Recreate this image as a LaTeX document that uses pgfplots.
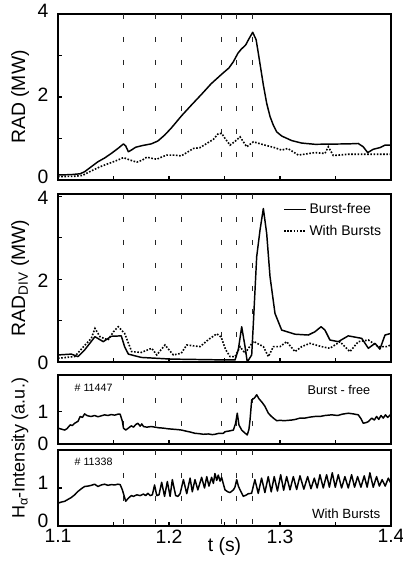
\documentclass[border=0pt]{standalone}
\usepackage{fontspec}
\setmainfont{Liberation Sans}
\usepackage{pgfplots}
\pgfplotsset{compat=1.18}

\pgfplotsset{
  panel/.style={
    scale only axis, width=249.75pt, xmin=1.1, xmax=1.4,
    axis line style={line width=1pt},
    xtick={1.1,1.15,1.2,1.25,1.3,1.35,1.4}, xticklabels={},
    xtick pos=bottom, ytick pos=left,
    tick align=inside, major tick length=3pt,
    tick style={black, line width=0.8pt},
    every tick label/.append style={font=\fontsize{14.5}{16}\selectfont, inner sep=1pt},
    yticklabel style={xshift=-6pt},
    xticklabel style={yshift=-1.5pt},
    /pgf/number format/assume math mode=true,
    every axis y label/.style={at={(axis description cs:-0.114,0.5)}, rotate=90, anchor=center, font=\fontsize{14.5}{16}\selectfont},
  },
  vl/.style={black!85, line width=0.8pt, dash pattern=on 3.75pt off 13.5pt, forget plot},
  bf/.style={black, line width=1.1pt, line join=round},
  wb/.style={black, line width=1.2pt, dash pattern=on 1.2pt off 1.2pt},
}

\begin{document}
\begin{tikzpicture}

% RAD
\begin{axis}[panel, at={(43.5pt,288pt)}, anchor=south west, height=124.5pt,
  ymin=0, ymax=4, ytick={0,1,2,3,4}, yticklabels={0,,2,,4}, ylabel={RAD (MW)},
  yticklabel style={yshift=2pt}]
\pgfplotsinvokeforeach{1.159,1.188,1.211}{\addplot[vl] coordinates {(#1,4) (#1,1.05)};}
\pgfplotsinvokeforeach{1.2475,1.261,1.275}{\addplot[vl] coordinates {(#1,4) (#1,0.45)};}
\addplot[bf] coordinates {
(1.100,0.12)(1.112,0.13)(1.120,0.15)(1.124,0.20)(1.130,0.32)(1.136,0.44)(1.142,0.53)
(1.148,0.64)(1.154,0.76)(1.159,0.87)(1.161,0.82)(1.1634,0.68)(1.166,0.72)(1.170,0.79)
(1.176,0.83)(1.184,0.87)(1.190,0.94)(1.196,1.08)(1.202,1.25)(1.2114,1.55)(1.220,1.80)
(1.2295,2.07)(1.238,2.32)(1.2475,2.55)(1.254,2.70)(1.258,2.85)(1.262,3.05)(1.265,3.15)
(1.269,3.25)(1.272,3.40)(1.2754,3.56)(1.2785,3.38)(1.2805,3.05)(1.285,2.29)(1.288,1.85)
(1.291,1.53)(1.294,1.32)(1.297,1.16)(1.3015,1.06)(1.3105,0.95)(1.3195,0.89)(1.3315,0.86)
(1.3615,0.87)(1.3705,0.88)(1.375,0.80)(1.379,0.66)(1.384,0.74)(1.390,0.78)(1.3946,0.84)
(1.400,0.84)};
\addplot[wb] coordinates {
(1.100,0.08)(1.115,0.09)(1.122,0.11)(1.130,0.22)(1.138,0.32)(1.146,0.40)(1.152,0.46)
(1.159,0.54)(1.165,0.48)(1.171,0.43)(1.176,0.48)(1.180,0.55)(1.185,0.52)(1.189,0.50)
(1.194,0.56)(1.198,0.60)(1.205,0.60)(1.211,0.58)(1.216,0.66)(1.222,0.76)(1.228,0.78)
(1.234,0.88)(1.240,0.98)(1.2445,1.12)(1.2475,1.12)(1.2505,1.00)(1.255,0.84)(1.259,0.92)
(1.264,1.04)(1.270,0.80)(1.276,0.92)(1.2865,0.84)(1.2950,0.78)(1.3015,0.72)(1.307,0.76)
(1.3165,0.60)(1.3315,0.66)(1.3405,0.64)(1.3435,0.80)(1.348,0.59)(1.3615,0.62)(1.380,0.62)
(1.400,0.62)};
\end{axis}

% RAD_DIV
\begin{axis}[panel, at={(43.5pt,151.5pt)}, anchor=south west, height=126pt,
  ymin=0, ymax=4.05, ytick={0,1,2,3,4}, yticklabels={0,,2,,4},
  yticklabel style={yshift=-1pt},
  ylabel={RAD\textsubscript{DIV} (MW)},
  legend style={at={(axis description cs:0.979,0.96)}, anchor=north east, draw=none, fill=none,
    inner sep=0pt, row sep=3pt, font=\fontsize{10.5}{12}\selectfont,
    /tikz/every even column/.append style={column sep=2pt}},
  legend cell align=left,
  legend image code/.code={\draw[#1] (0pt,0pt) -- (16.5pt,0pt);}]
\pgfplotsinvokeforeach{1.159,1.188,1.211}{\addplot[vl] coordinates {(#1,4.05) (#1,0.95)};}
\pgfplotsinvokeforeach{1.2475,1.261,1.275}{\addplot[vl] coordinates {(#1,4.05) (#1,0.35)};}
\addplot[bf] coordinates {
(1.100,0.17)(1.112,0.19)(1.118,0.13)(1.124,0.29)(1.1333,0.61)(1.1408,0.49)(1.148,0.62)
(1.157,0.63)(1.160,0.37)(1.1634,0.19)(1.175,0.11)(1.202,0.07)(1.250,0.05)(1.2595,0.05)
(1.2624,0.29)(1.2655,0.85)(1.2685,0.37)(1.2705,0.0)(1.2745,0.17)(1.276,0.93)(1.279,2.54)
(1.282,3.18)(1.285,3.70)(1.288,3.10)(1.291,2.06)(1.2955,1.17)(1.3015,0.77)(1.3135,0.67)
(1.3255,0.65)(1.3315,0.73)(1.337,0.85)(1.3405,0.77)(1.345,0.53)(1.3525,0.49)(1.3615,0.63)
(1.3736,0.57)(1.3796,0.33)(1.3856,0.45)(1.390,0.31)(1.3946,0.65)(1.400,0.69)};
\addlegendentry{Burst-free}
\addplot[wb] coordinates {
(1.100,0.09)(1.115,0.13)(1.123,0.37)(1.130,0.57)(1.1333,0.81)(1.1378,0.61)(1.145,0.53)
(1.150,0.73)(1.1543,0.85)(1.160,0.69)(1.1664,0.25)(1.175,0.23)(1.1844,0.33)(1.189,0.17)
(1.1964,0.41)(1.2039,0.17)(1.211,0.21)(1.216,0.41)(1.228,0.37)(1.236,0.55)(1.243,0.68)
(1.247,0.60)(1.251,0.30)(1.255,0.13)(1.2595,0.13)(1.264,0.37)(1.2685,0.21)(1.276,0.50)
(1.285,0.37)(1.2895,0.13)(1.294,0.37)(1.300,0.37)(1.306,0.49)(1.3135,0.25)(1.3195,0.37)
(1.327,0.45)(1.3375,0.37)(1.345,0.33)(1.354,0.49)(1.363,0.25)(1.3705,0.49)(1.3796,0.53)
(1.3886,0.37)(1.396,0.37)(1.400,0.41)};
\addlegendentry{With Bursts}
\end{axis}

% H-alpha, burst-free
\begin{axis}[panel, at={(43.5pt,90pt)}, anchor=south west, height=51.75pt,
  ymin=0, ymax=2.13, ytick={0,1}, yticklabels={0,1}]
\pgfplotsinvokeforeach{1.159,1.188,1.211,1.2475,1.261,1.275}{\addplot[vl] coordinates {(#1,2.13) (#1,0)};}
\addplot[black, line width=1.1pt, line join=round] coordinates {
(1.100,0.49)(1.103,0.46)(1.106,0.43)(1.108,0.47)(1.111,0.59)(1.113,0.57)(1.115,0.64)
(1.118,0.70)(1.120,0.85)(1.122,0.82)(1.124,0.93)(1.126,0.88)(1.128,0.86)(1.130,0.85)
(1.133,0.88)(1.136,0.84)(1.139,0.87)(1.142,0.90)(1.145,0.88)(1.148,0.91)(1.151,0.89)
(1.154,0.92)(1.156,0.92)(1.158,0.70)(1.159,0.49)(1.161,0.43)(1.163,0.48)(1.166,0.56)
(1.168,0.52)(1.170,0.60)(1.172,0.64)(1.174,0.55)(1.1755,0.62)(1.177,0.54)(1.180,0.52)
(1.184,0.54)(1.1874,0.52)(1.191,0.50)(1.195,0.49)(1.199,0.47)(1.2024,0.46)(1.206,0.45)
(1.209,0.44)(1.2114,0.43)(1.215,0.40)(1.219,0.37)(1.2234,0.33)(1.227,0.32)(1.231,0.30)
(1.2354,0.31)(1.239,0.29)(1.2415,0.30)(1.245,0.33)(1.249,0.33)(1.2505,0.38)(1.254,0.40)
(1.258,0.43)(1.260,0.64)(1.2615,0.95)(1.263,0.59)(1.2655,0.43)(1.268,0.35)(1.2705,0.28)
(1.272,0.45)(1.273,0.74)(1.2745,1.36)(1.277,1.42)(1.279,1.52)(1.281,1.40)(1.282,1.36)
(1.284,1.28)(1.2865,1.16)(1.2895,0.95)(1.292,0.86)(1.294,0.80)(1.297,0.72)(1.300,0.73)
(1.304,0.72)(1.3105,0.74)(1.314,0.76)(1.318,0.80)(1.3225,0.80)(1.327,0.83)(1.3315,0.85)
(1.336,0.85)(1.3405,0.88)(1.3466,0.90)(1.352,0.88)(1.356,0.92)(1.3615,0.95)(1.366,0.93)
(1.3705,0.90)(1.373,0.78)(1.375,0.64)(1.3775,0.66)(1.3796,0.69)(1.3826,0.80)(1.385,0.74)
(1.387,0.85)(1.389,0.76)(1.391,0.88)(1.393,0.80)(1.395,0.90)(1.397,0.82)(1.400,0.92)};
\node[anchor=west, font=\fontsize{8}{9}\selectfont] at (axis description cs:0.036,0.81) {\# 11447};
\node[anchor=east, font=\fontsize{9.5}{11}\selectfont] at (axis description cs:0.952,0.78) {Burst - free};
\end{axis}

% H-alpha, with bursts
\begin{axis}[panel, at={(43.5pt,28.5pt)}, anchor=south west, height=57pt,
  ymin=0, ymax=2.0, ytick={0,1}, yticklabels={0,1},
  yticklabel style={yshift=3.5pt},
  xticklabels={1.1,,1.2,,1.3,,1.4},
  xlabel={t (s)},
  every axis x label/.style={at={(axis description cs:0.5,0)}, yshift=-15pt, anchor=center, font=\fontsize{14.5}{16}\selectfont},
  every axis y label/.style={at={(axis description cs:-0.114,1.02)}, rotate=90, anchor=center, font=\fontsize{13.5}{16}\selectfont},
  ylabel={H\textsubscript{α}-Intensity (a.u.)}]
\pgfplotsinvokeforeach{1.159,1.188,1.211,1.2475,1.261,1.275}{\addplot[vl] coordinates {(#1,2.0) (#1,0)};}
\addplot[black, line width=1.1pt, line join=round] coordinates {
(1.100,0.60)(1.103,0.63)(1.106,0.65)(1.109,0.70)(1.112,0.75)(1.115,0.82)(1.118,0.91)
(1.121,0.98)(1.124,1.04)(1.127,1.05)(1.130,1.07)(1.133,1.10)(1.136,1.04)(1.139,1.08)
(1.142,1.10)(1.145,1.07)(1.148,1.09)(1.151,1.08)(1.154,1.10)(1.156,1.09)(1.158,0.95)
(1.160,0.75)(1.161,0.65)(1.163,0.72)(1.166,0.80)(1.168,0.78)(1.171,0.82)(1.174,0.80)
(1.177,0.84)(1.179,0.80)(1.181,0.86)(1.183,0.80)(1.185,0.82)(1.187,1.08)(1.189,0.80)
(1.191,0.82)(1.1934,1.15)(1.196,0.78)(1.1985,1.17)(1.201,0.78)(1.203,1.22)(1.206,0.80)
(1.208,0.78)(1.210,0.85)(1.213,1.22)(1.216,0.85)(1.219,1.26)(1.221,0.90)(1.2234,1.22)
(1.226,0.95)(1.2294,1.28)(1.232,1.00)(1.234,1.30)(1.236,1.05)(1.2384,1.28)(1.240,1.12)
(1.2414,1.38)(1.243,1.20)(1.2444,1.34)(1.246,1.18)(1.2474,1.28)(1.2495,1.05)(1.2505,0.95)
(1.253,0.90)(1.255,0.88)(1.258,0.95)(1.2594,1.02)(1.261,1.22)(1.2625,1.05)(1.264,0.95)
(1.2669,0.78)(1.2699,0.82)(1.2714,0.85)(1.2744,0.86)(1.2774,1.22)(1.2804,0.86)(1.2834,1.26)
(1.2864,0.88)(1.2894,1.30)(1.2921,0.90)(1.2948,1.30)(1.2977,0.92)(1.3006,1.35)(1.3033,0.94)
(1.306,1.30)(1.309,0.95)(1.312,1.30)(1.315,0.96)(1.318,1.32)(1.3215,0.97)(1.3249,1.30)
(1.3279,0.98)(1.3309,1.26)(1.3335,1.00)(1.336,1.35)(1.339,1.00)(1.342,1.35)(1.3445,1.02)
(1.3471,1.40)(1.3498,1.02)(1.3525,1.35)(1.3555,1.00)(1.3585,1.30)(1.3615,1.00)(1.3645,1.35)
(1.3672,1.02)(1.3699,1.30)(1.3729,1.02)(1.3759,1.32)(1.3785,1.02)(1.381,1.40)(1.384,1.02)
(1.387,1.30)(1.3895,1.05)(1.392,1.22)(1.3948,1.05)(1.3976,1.26)(1.400,1.12)};
\node[anchor=west, font=\fontsize{8}{9}\selectfont] at (axis description cs:0.036,0.846) {\# 11338};
\node[anchor=east, font=\fontsize{10}{12}\selectfont] at (axis description cs:0.982,0.158) {With Bursts};
\end{axis}

\pgfresetboundingbox
\useasboundingbox (0,0) rectangle (302.25pt,423pt);
\end{tikzpicture}
\end{document}
